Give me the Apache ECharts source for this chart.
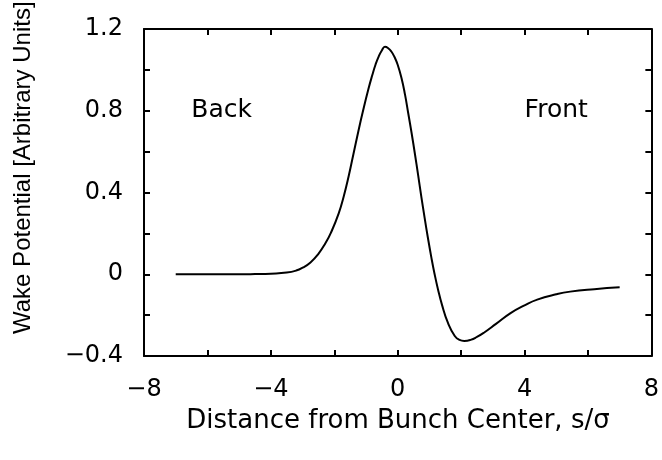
<!DOCTYPE html>
<html>
<head>
<meta charset="utf-8">
<script src="https://cdn.jsdelivr.net/npm/echarts@6/dist/echarts.min.js"></script>
<style>
html,body{margin:0;padding:0;background:#fff;}
#chart{width:662px;height:460px;}
</style>
</head>
<body>
<div id="chart"></div>
<script>
// ---- data ----
var sValues = [-7, -6, -5, -4.5, -4, -3.5, -3.2, -3.0, -2.75, -2.5, -2.28, -2.1, -1.86, -1.7, -1.55, -1.4, -1.24, -1.1, -0.925, -0.8, -0.7, -0.6, -0.5, -0.4, -0.3, -0.2, -0.1, 0.0, 0.12, 0.23, 0.33, 0.44, 0.54, 0.645, 0.745, 0.85, 0.95, 1.06, 1.16, 1.27, 1.4, 1.58, 1.8, 1.95, 2.1, 2.3, 2.5, 2.73, 3.1, 3.56, 4.0, 4.4, 5.0, 5.44, 6.2, 7.0];
var wakeValues = [0, 0, 0, 0.001, 0.003, 0.008, 0.018, 0.032, 0.058, 0.1, 0.152, 0.205, 0.298, 0.382, 0.477, 0.585, 0.7, 0.795, 0.905, 0.975, 1.025, 1.065, 1.095, 1.113, 1.106, 1.09, 1.063, 1.025, 0.96, 0.88, 0.79, 0.69, 0.592, 0.485, 0.38, 0.276, 0.181, 0.084, 0.004, -0.073, -0.151, -0.236, -0.302, -0.321, -0.326, -0.321, -0.307, -0.285, -0.243, -0.19, -0.152, -0.124, -0.098, -0.085, -0.073, -0.064];

var xTickValues = [-8, -4, 0, 4, 8];
var xTickLabels = ['\u22128', '\u22124', '0', '4', '8'];
var yTickValues = [-0.4, 0, 0.4, 0.8, 1.2];
var yTickLabels = ['\u22120.4', '0', '0.4', '0.8', '1.2'];

var noteNames = ['Back', 'Front'];
var noteX = [-5.55, 5.0];
var noteY = [0.8, 0.8];

var xTitle = 'Distance from Bunch Center, s/\u03c3';
var yTitle = 'Wake Potential [Arbitrary Units]';

// ---- build ----
function lookup(vals, texts, v) {
  for (var i = 0; i < vals.length; i++) {
    if (Math.abs(vals[i] - v) < 1e-6) return texts[i];
  }
  return '';
}
var curve = sValues.map(function (s, i) { return [s, wakeValues[i]]; });

var FONT = 'DejaVu Sans';
var tick = { show: true, inside: true, length: 6, lineStyle: { color: '#000', width: 2 } };
var line = { show: true, onZero: false, lineStyle: { color: '#000', width: 2 } };

var chart = echarts.init(document.getElementById('chart'), null, { renderer: 'canvas' });
var baseGraphic = [
  {
    type: 'text', x: 398, y: 421,
    style: { text: xTitle, fill: '#000', font: '26px "' + FONT + '"', textAlign: 'center', textVerticalAlign: 'middle' }
  },
  {
    type: 'text', x: 35, y: 334, rotation: Math.PI / 2,
    style: { text: yTitle, fill: '#000', font: '24px "Liberation Sans"', textAlign: 'left', textVerticalAlign: 'bottom' }
  }
];
chart.setOption({
  animation: false,
  backgroundColor: '#fff',
  grid: { left: 144, right: 7, top: 29, bottom: 104, containLabel: false },
  xAxis: [
    {
      type: 'value', min: -8, max: 8, interval: 2, position: 'bottom',
      axisLine: line, axisTick: tick, splitLine: { show: false },
      axisLabel: {
        margin: 22, color: '#000', fontFamily: FONT, fontSize: 24,
        formatter: function (v) { return lookup(xTickValues, xTickLabels, v); }
      }
    },
    {
      type: 'value', min: -8, max: 8, interval: 2, position: 'top',
      axisLine: line, axisTick: tick, splitLine: { show: false },
      axisLabel: { show: false }
    }
  ],
  yAxis: [
    {
      type: 'value', min: -0.4, max: 1.2, interval: 0.2, position: 'left',
      axisLine: line, axisTick: tick, splitLine: { show: false },
      axisLabel: {
        margin: 21, color: '#000', fontFamily: FONT, fontSize: 24,
        formatter: function (v) { return lookup(yTickValues, yTickLabels, v); }
      }
    },
    {
      type: 'value', min: -0.4, max: 1.2, interval: 0.2, position: 'right',
      axisLine: line, axisTick: tick, splitLine: { show: false },
      axisLabel: { show: false }
    }
  ],
  graphic: baseGraphic,
  series: [
    {
      type: 'line', data: curve, smooth: 0.5, showSymbol: false,
      lineStyle: { color: '#000', width: 2 }, xAxisIndex: 0, yAxisIndex: 0, z: 3
    }
  ]
});

// annotations positioned from data coordinates via the chart's own scales
var noteGraphics = noteNames.map(function (n, i) {
  var p = chart.convertToPixel({ gridIndex: 0 }, [noteX[i], noteY[i]]);
  return {
    type: 'text', x: p[0], y: p[1],
    style: { text: n, fill: '#000', font: '25px "' + FONT + '"', textAlign: 'center', textVerticalAlign: 'middle' }
  };
});
chart.setOption({ graphic: baseGraphic.concat(noteGraphics) });
</script>
</body>
</html>
